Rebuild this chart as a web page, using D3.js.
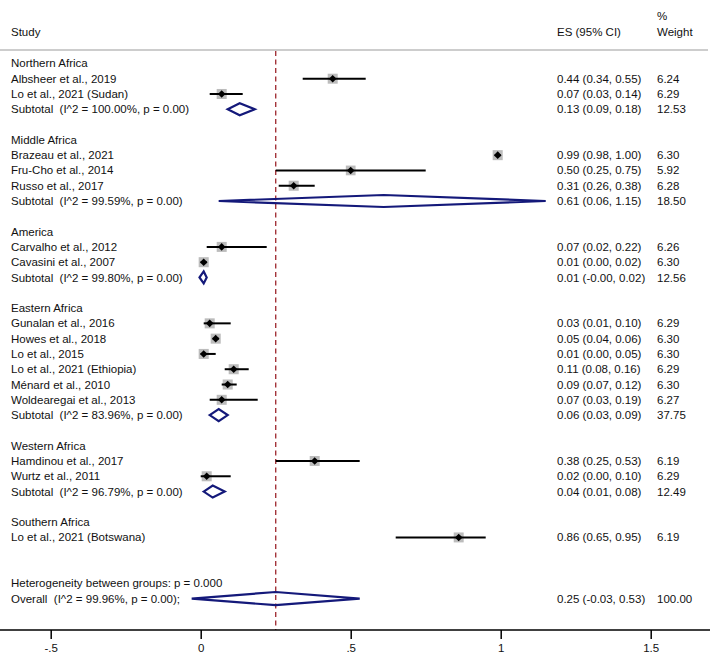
<!DOCTYPE html>
<html>
<head>
<meta charset="utf-8">
<script src="https://cdn.jsdelivr.net/npm/d3@7"></script>
<style>
  html, body { margin: 0; padding: 0; background: #fff; }
  svg text { font-family: "Liberation Sans", Arial, sans-serif; font-size: 11.5px; fill: #111; white-space: pre; }
</style>
</head>
<body>
<svg id="chart" width="710" height="657"></svg>
<script>
// ---- data ----
const groupNames = ["Northern Africa", "Middle Africa", "America", "Eastern Africa", "Western Africa", "Southern Africa"];
const studyNames = [
  "Albsheer et al., 2019", "Lo et al., 2021 (Sudan)",
  "Brazeau et al., 2021", "Fru-Cho et al., 2014", "Russo et al., 2017",
  "Carvalho et al., 2012", "Cavasini et al., 2007",
  "Gunalan et al., 2016", "Howes et al., 2018", "Lo et al., 2015", "Lo et al., 2021 (Ethiopia)", "Ménard et al., 2010", "Woldearegai et al., 2013",
  "Hamdinou et al., 2017", "Wurtz et al., 2011",
  "Lo et al., 2021 (Botswana)"
];
const studyGroup = [0, 0, 1, 1, 1, 2, 2, 3, 3, 3, 3, 3, 3, 4, 4, 5];
const studyES = [0.44, 0.07, 0.99, 0.50, 0.31, 0.07, 0.01, 0.03, 0.05, 0.01, 0.11, 0.09, 0.07, 0.38, 0.02, 0.86];
const studyLo = [0.34, 0.03, 0.98, 0.25, 0.26, 0.02, 0.00, 0.01, 0.04, 0.00, 0.08, 0.07, 0.03, 0.25, 0.00, 0.65];
const studyHi = [0.55, 0.14, 1.00, 0.75, 0.38, 0.22, 0.02, 0.10, 0.06, 0.05, 0.16, 0.12, 0.19, 0.53, 0.10, 0.95];
const studyW  = [6.24, 6.29, 6.30, 5.92, 6.28, 6.26, 6.30, 6.29, 6.30, 6.30, 6.29, 6.30, 6.27, 6.19, 6.29, 6.19];

const subtotalLabels = [
  "Subtotal  (I^2 = 100.00%, p = 0.00)",
  "Subtotal  (I^2 = 99.59%, p = 0.00)",
  "Subtotal  (I^2 = 99.80%, p = 0.00)",
  "Subtotal  (I^2 = 83.96%, p = 0.00)",
  "Subtotal  (I^2 = 96.79%, p = 0.00)",
  null
];
const subES = [0.13, 0.61, 0.01, 0.06, 0.04, null];
const subLo = [0.09, 0.06, -0.004, 0.03, 0.01, null];
const subHi = [0.18, 1.15, 0.02, 0.09, 0.08, null];
const subW  = [12.53, 18.50, 12.56, 37.75, 12.49, null];

const heterogeneityLabel = "Heterogeneity between groups: p = 0.000";
const overallLabel = "Overall  (I^2 = 99.96%, p = 0.00);";
const overallES = 0.25, overallLo = -0.03, overallHi = 0.53, overallW = 100.00;

const tickValues = [-0.5, 0, 0.5, 1, 1.5];
const tickLabels = ["-.5", "0", ".5", "1", "1.5"];
const refLine = 0.25;

// ---- build rows ----
const rows = [];
groupNames.forEach((g, gi) => {
  rows.push({ type: "group", label: g });
  studyNames.forEach((s, si) => {
    if (studyGroup[si] === gi) rows.push({ type: "study", label: s, es: studyES[si], lo: studyLo[si], hi: studyHi[si], w: studyW[si] });
  });
  if (subtotalLabels[gi]) rows.push({ type: "sub", label: subtotalLabels[gi], es: subES[gi], lo: subLo[gi], hi: subHi[gi], w: subW[gi] });
  rows.push({ type: "blank" });
});
rows.push({ type: "blank" });
rows.push({ type: "text", label: heterogeneityLabel });
rows.push({ type: "overall", label: overallLabel, es: overallES, lo: overallLo, hi: overallHi, w: overallW });

// ---- layout ----
const svg = d3.select("#chart");
const x = d3.scaleLinear().domain([-0.5, 1.5]).range([50.7, 650.7]);
const y = d3.scaleLinear().domain([0, rows.length - 1]).range([63.4, 598.6]);
const esX = 557, wX = 657, labelX = 11;
const axisY = 630, headerLineY = 50;
const fmt = v => v.toFixed(2);

// header
svg.append("text").attr("x", labelX).attr("y", 32).attr("dy", "0.35em").text("Study");
svg.append("text").attr("x", esX).attr("y", 32).attr("dy", "0.35em").text("ES (95% CI)");
svg.append("text").attr("x", wX).attr("y", 16).attr("dy", "0.35em").text("%");
svg.append("text").attr("x", wX).attr("y", 32).attr("dy", "0.35em").text("Weight");
svg.append("line").attr("x1", 0).attr("x2", 708).attr("y1", headerLineY).attr("y2", headerLineY)
  .attr("stroke", "#bdbdbd").attr("stroke-width", 1.5);

// reference line
svg.append("line").attr("x1", x(refLine)).attr("x2", x(refLine)).attr("y1", headerLineY + 1).attr("y2", axisY)
  .attr("stroke", "#a3343a").attr("stroke-width", 1.4).attr("stroke-dasharray", "5,3.5");

// rows
rows.forEach((r, i) => {
  const cy = y(i);
  if (r.type === "blank") return;
  svg.append("text").attr("x", labelX).attr("y", cy).attr("dy", "0.35em").text(r.label);
  if (r.type === "study") {
    const side = 4.0 * Math.sqrt(r.w);
    svg.append("rect").attr("x", x(r.es) - side / 2).attr("y", cy - side / 2)
      .attr("width", side).attr("height", side).attr("fill", "#bcbcbc");
    svg.append("line").attr("x1", x(r.lo)).attr("x2", x(r.hi)).attr("y1", cy).attr("y2", cy)
      .attr("stroke", "#000").attr("stroke-width", 2);
    const d = 3.8;
    svg.append("path").attr("d", `M${x(r.es) - d},${cy}L${x(r.es)},${cy - d}L${x(r.es) + d},${cy}L${x(r.es)},${cy + d}Z`)
      .attr("fill", "#000");
  }
  if (r.type === "sub" || r.type === "overall") {
    const h = r.type === "overall" ? 6.6 : 6;
    svg.append("path")
      .attr("d", `M${x(r.lo)},${cy}L${x(r.es)},${cy - h}L${x(r.hi)},${cy}L${x(r.es)},${cy + h}Z`)
      .attr("fill", "none").attr("stroke", "#14197a").attr("stroke-width", 2.2).attr("stroke-linejoin", "miter");
  }
  if (r.type === "study" || r.type === "sub" || r.type === "overall") {
    svg.append("text").attr("x", esX).attr("y", cy).attr("dy", "0.35em")
      .text(`${fmt(r.es)} (${fmt(r.lo)}, ${fmt(r.hi)})`);
    svg.append("text").attr("x", wX).attr("y", cy).attr("dy", "0.35em").text(fmt(r.w));
  }
});

// axis
const axis = d3.axisBottom(x).tickValues(tickValues).tickSize(9).tickPadding(5)
  .tickFormat((d, i) => tickLabels[i]);
const ag = svg.append("g").attr("transform", `translate(0,${axisY})`).call(axis);
ag.select(".domain").remove();
ag.selectAll(".tick line").attr("stroke", "#000").attr("stroke-width", 1.5);
ag.selectAll(".tick text").style("font-size", "11.5px").attr("fill", "#111");
svg.append("line").attr("x1", 0).attr("x2", 710).attr("y1", axisY).attr("y2", axisY)
  .attr("stroke", "#000").attr("stroke-width", 1.6);
</script>
</body>
</html>
